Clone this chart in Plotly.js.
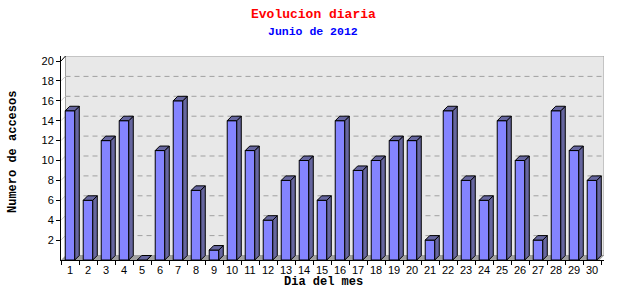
<!DOCTYPE html>
<html>
<head>
<meta charset="utf-8">
<script src="https://cdn.plot.ly/plotly-3.0.1.min.js"></script>
<style>html,body{margin:0;padding:0;background:#fff;}#chart{width:640px;height:300px;}</style>
</head>
<body>
<div id="chart"></div>
<script>
// ---- data ----
const dayLabels = ['1','2','3','4','5','6','7','8','9','10','11','12','13','14','15','16','17','18','19','20','21','22','23','24','25','26','27','28','29','30'];
const visits = [15,6,12,14,0,11,16,7,1,14,11,4,8,10,6,14,9,10,12,12,2,15,8,6,14,10,2,15,11,8];
const yTickVals = [2,4,6,8,10,12,14,16,18,20];
const chartTitle = 'Evolucion diaria';
const chartSubtitle = 'Junio de 2012';
const xTitle = 'Dia del mes';
const yTitle = 'Numero de accesos';

// ---- geometry ----
const W = 640, H = 300, L = 61, R = 36, T = 56, B = 40;
const plotW = W - L - R, plotH = H - T - B;
const pxPerX = 18;
const pxPerY = 199 / 20;
const xMin = 0.5, xMax = xMin + plotW / pxPerX;
const yMin = 0, yMax = plotH / pxPerY;
const depthPx = 4.5;
const dxU = depthPx / pxPerX, dyU = depthPx / pxPerY;
const barW = 0.53, hw = barW / 2;
const px2paperX = px => (px - L) / plotW;
const px2paperY = py => (H - B - py) / plotH;

const xPos = dayLabels.map((d, i) => i + 1);

// side and top faces
const sideX = [], sideY = [], topX = [], topY = [];
xPos.forEach((c, i) => {
  const v = visits[i];
  sideX.push(c + hw, c + hw + dxU, c + hw + dxU, c + hw, c + hw, null);
  sideY.push(0, dyU, v + dyU, v, 0, null);
  topX.push(c - hw, c - hw + dxU, c + hw + dxU, c + hw, c - hw, null);
  topY.push(v, v + dyU, v + dyU, v, v, null);
});

const traces = [
  {type: 'bar', x: xPos, y: visits, width: barW,
   marker: {color: '#8484ff', line: {color: '#000000', width: 1}},
   hoverinfo: 'x+y', showlegend: false},
  {type: 'scatter', mode: 'lines', x: sideX, y: sideY, fill: 'toself',
   fillcolor: '#66669f', line: {color: '#000000', width: 1},
   hoverinfo: 'skip', showlegend: false},
  {type: 'scatter', mode: 'lines', x: topX, y: topY, fill: 'toself',
   fillcolor: '#66669f', line: {color: '#000000', width: 1},
   hoverinfo: 'skip', showlegend: false}
];

const shapes = [];
// back wall
shapes.push({type: 'rect', xref: 'x', yref: 'y', layer: 'below',
  x0: xMin + dxU, x1: xMax, y0: dyU, y1: yMax,
  fillcolor: '#e8e8e8', line: {color: '#a0a0a0', width: 1}});
// floor
shapes.push({type: 'path', xref: 'x', yref: 'y', layer: 'below',
  path: `M ${xMin} 0 L ${xMin + dxU} ${dyU} L ${xMax} ${dyU} L ${xMax - dxU} 0 Z`,
  fillcolor: '#a0a0a0', line: {width: 0}});
// grid lines on the back wall
yTickVals.filter(v => v < 20).forEach(v => {
  shapes.push({type: 'line', xref: 'x', yref: 'y', layer: 'below',
    x0: xMin + dxU, x1: xMax, y0: v + dyU, y1: v + dyU,
    line: {color: '#a0a0a0', width: 1, dash: '5px,4px'}});
  shapes.push({type: 'line', xref: 'x', yref: 'y', layer: 'below',
    x0: xMin, x1: xMin + dxU, y0: v, y1: v + dyU,
    line: {color: '#c8c8c8', width: 1}});
});
// top-left corner diagonal
shapes.push({type: 'line', xref: 'x', yref: 'y', layer: 'below',
  x0: xMin, x1: xMin + dxU, y0: 20, y1: yMax,
  line: {color: '#000000', width: 1}});

const monoFont = '"Liberation Mono", "DejaVu Sans Mono", monospace';

const annotations = [
  {text: `<b>${chartTitle}</b>`, xref: 'paper', yref: 'paper',
   x: px2paperX(313), y: px2paperY(14), xanchor: 'center', yanchor: 'middle',
   showarrow: false, font: {family: monoFont, size: 13, color: '#ff0000'}},
  {text: `<b>${chartSubtitle}</b>`, xref: 'paper', yref: 'paper',
   x: px2paperX(313), y: px2paperY(32), xanchor: 'center', yanchor: 'middle',
   showarrow: false, font: {family: monoFont, size: 11.5, color: '#0000ff'}},
  {text: `<b>${xTitle}</b>`, xref: 'paper', yref: 'paper',
   x: px2paperX(323), y: px2paperY(282), xanchor: 'center', yanchor: 'middle',
   showarrow: false, font: {family: monoFont, size: 12, color: '#000000'}},
  {text: `<b>${yTitle}</b>`, xref: 'paper', yref: 'paper', textangle: -90,
   x: px2paperX(13), y: px2paperY(152), xanchor: 'center', yanchor: 'middle',
   showarrow: false, font: {family: monoFont, size: 12, color: '#000000'}}
];

const layout = {
  width: W, height: H,
  margin: {l: L, r: R, t: T, b: B, pad: 0},
  paper_bgcolor: '#ffffff', plot_bgcolor: 'rgba(0,0,0,0)',
  xaxis: {
    range: [xMin, xMax], showgrid: false, zeroline: false,
    tickmode: 'array', tickvals: xPos, ticktext: dayLabels,
    ticks: '', showline: true, linecolor: '#000000', linewidth: 1,
    tickfont: {family: '"Liberation Sans", Arial, sans-serif', size: 11, color: '#000000'},
    minor: {tickmode: 'array', tickvals: xPos.map(x => x - 0.5).concat([30.5]),
            ticks: 'outside', ticklen: 4, tickcolor: '#000000', showgrid: false},
    fixedrange: true
  },
  yaxis: {
    range: [yMin, yMax], showgrid: false, zeroline: false,
    tickmode: 'array', tickvals: yTickVals,
    ticks: 'outside', ticklen: 4, tickcolor: '#000000',
    showline: true, linecolor: '#000000', linewidth: 1,
    tickfont: {family: '"Liberation Sans", Arial, sans-serif', size: 11, color: '#000000'},
    fixedrange: true
  },
  annotations: annotations,
  shapes: shapes,
  showlegend: false,
  bargap: 0
};

Plotly.newPlot('chart', traces, layout, {displayModeBar: false, staticPlot: true});
</script>
</body>
</html>
